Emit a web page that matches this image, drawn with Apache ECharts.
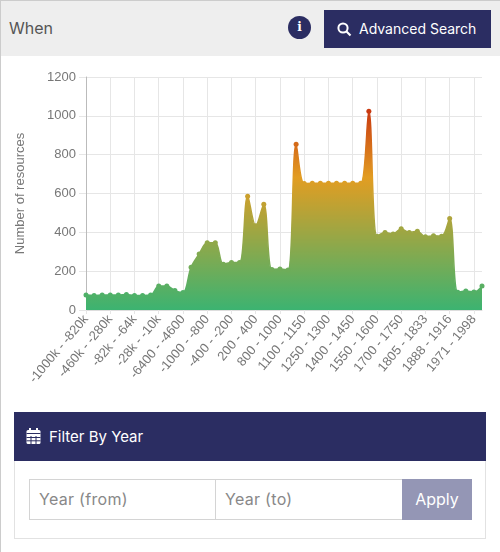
<!DOCTYPE html>
<html>
<head>
<meta charset="utf-8">
<script src="https://cdn.jsdelivr.net/npm/echarts@6/dist/echarts.min.js"></script>
<style>
html,body{margin:0;padding:0;background:#fff;width:500px;height:552px;overflow:hidden;font-family:Inter,"Open Sans",sans-serif}
.frame{position:absolute;left:0;top:0;width:1px;height:552px;background:#ccc}
.head{position:absolute;left:0;top:0;width:500px;height:56px;background:#eee;border-top:1px solid #ccc;box-sizing:border-box}
.when{position:absolute;left:9px;top:18px;font-size:16px;line-height:18px;color:#555}
.info{position:absolute;left:288px;top:15px;width:23px;height:23px;border-radius:50%;background:#2b2d62;color:#fff;font:bold 12px/23px "DejaVu Serif",serif;text-align:center}
.adv{position:absolute;left:324px;top:9px;width:167px;height:38px;background:#2b2d62;color:#fff;font-size:14px;line-height:38px}
.adv svg{position:absolute;left:13px;top:12px}
.adv span{position:absolute;left:35px;white-space:nowrap}
#chart{position:absolute;left:0;top:60px;width:500px;height:345px}
.panel{position:absolute;left:14px;top:412px;width:472px;height:127px;border:1px solid #e2e2e2;box-sizing:border-box}
.panel-head{position:absolute;left:-1px;top:-1px;width:472px;height:49px;background:#2b2d62;color:#fff;font-size:15px;line-height:49px}
.panel-head svg{position:absolute;left:12px;top:16px}
.panel-head span{position:absolute;left:35px;white-space:nowrap}
.field{position:absolute;top:66px;height:41px;border:1px solid #d4d4d4;box-sizing:border-box;color:#888;font-size:16px;letter-spacing:.3px;line-height:39px;padding-left:9px}
.apply{position:absolute;left:387px;top:66px;width:70px;height:41px;background:#9496b5;color:#fff;font-size:16px;line-height:41px;text-align:center}
</style>
</head>
<body>
<div class="head">
  <div class="when">When</div>
  <div class="info">i</div>
  <div class="adv">
    <svg width="15" height="15" viewBox="0 0 15 15"><circle cx="6" cy="6" r="4.6" fill="none" stroke="#fff" stroke-width="2"/><line x1="9.5" y1="9.5" x2="13.5" y2="13.5" stroke="#fff" stroke-width="2.2"/></svg>
    <span>Advanced Search</span>
  </div>
</div>
<div class="frame"></div>
<div id="chart"></div>
<div class="panel">
  <div class="panel-head">
    <svg width="15" height="16" viewBox="0 0 15 16"><rect x="0.5" y="2" width="14" height="14" rx="1.5" fill="#fff"/><rect x="3" y="0" width="2" height="4" fill="#fff"/><rect x="10" y="0" width="2" height="4" fill="#fff"/><path d="M0.5 5.5h14M5 8v8M10 8v8M0.5 9.5h14M0.5 12.8h14" stroke="#2b2d62" stroke-width="1"/></svg>
    <span>Filter By Year</span>
  </div>
  <div class="field" style="left:14px;width:187px">Year (from)</div>
  <div class="field" style="left:200px;width:188px">Year (to)</div>
  <div class="apply">Apply</div>
</div>
<script>
var periods = [
  '-1000k - -820k','-820k - -640k','-640k - -460k','-460k - -280k','-280k - -100k','-100k - -82k','-82k - -64k','-64k - -46k','-46k - -28k','-28k - -10k',
  '-10k - -8200','-8200 - -6400','-6400 - -4600','-4600 - -2800','-2800 - -1000','-1000 - -800','-800 - -600','-600 - -400','-400 - -200','-200 - 0',
  '0 - 200','200 - 400','400 - 600','600 - 800','800 - 1000','1000 - 1050','1050 - 1100','1100 - 1150','1150 - 1200','1200 - 1250',
  '1250 - 1300','1300 - 1350','1350 - 1400','1400 - 1450','1450 - 1500','1500 - 1550','1550 - 1600','1600 - 1650','1650 - 1700','1700 - 1750',
  '1750 - 1777','1777 - 1805','1805 - 1833','1833 - 1860','1860 - 1888','1888 - 1916','1916 - 1943','1943 - 1971','1971 - 1998','1998 - 2025'
];
var resources = [
  77,75,77,77,77,80,75,75,77,123,
  123,100,90,220,288,346,346,236,245,245,
  586,434,545,209,211,206,854,651,653,653,
  653,653,653,653,653,1023,380,399,392,418,
  399,406,377,382,380,471,91,98,93,123
];

var myChart = echarts.init(document.getElementById('chart'));
var option = {
  animation: false,
  grid: {left: 86, right: 18, top: 17, height: 233},
  visualMap: {
    show: false,
    type: 'continuous',
    min: 0,
    max: 1023,
    dimension: 1,
    seriesIndex: 0,
    inRange: {color: ['#3cb371','#8fa84a','#e29d22','#c93a10']}
  },
  xAxis: {
    type: 'category',
    data: periods,
    boundaryGap: false,
    axisLine: {lineStyle: {color: '#ddd'}},
    axisTick: {interval: 2, length: 4, lineStyle: {color: '#e6e6e6'}},
    splitLine: {show: true, interval: 2, lineStyle: {color: '#e6e6e6'}},
    axisLabel: {interval: 2, rotate: 50, color: '#777', fontSize: 13, fontFamily: 'Liberation Sans', margin: 7}
  },
  yAxis: {
    type: 'value',
    min: 0,
    max: 1200,
    interval: 200,
    name: 'Number of resources',
    nameLocation: 'middle',
    nameGap: 59,
    nameTextStyle: {color: '#777', fontSize: 13, fontFamily: 'Liberation Sans'},
    axisLine: {show: true, lineStyle: {color: '#bbb'}},
    axisTick: {show: true, length: 7, lineStyle: {color: '#e6e6e6'}},
    splitLine: {lineStyle: {color: '#e6e6e6'}},
    axisLabel: {color: '#777', fontSize: 13, fontFamily: 'Liberation Sans', margin: 10, formatter: function(v){return String(v);}}
  },
  series: [{
    type: 'line',
    data: resources,
    smooth: 0.35,
    showSymbol: true,
    showAllSymbol: true,
    symbol: 'circle',
    symbolSize: 5,
    lineStyle: {width: 1.5},
    areaStyle: {opacity: 1}
  }]
};
myChart.setOption(option);
</script>
</body>
</html>
